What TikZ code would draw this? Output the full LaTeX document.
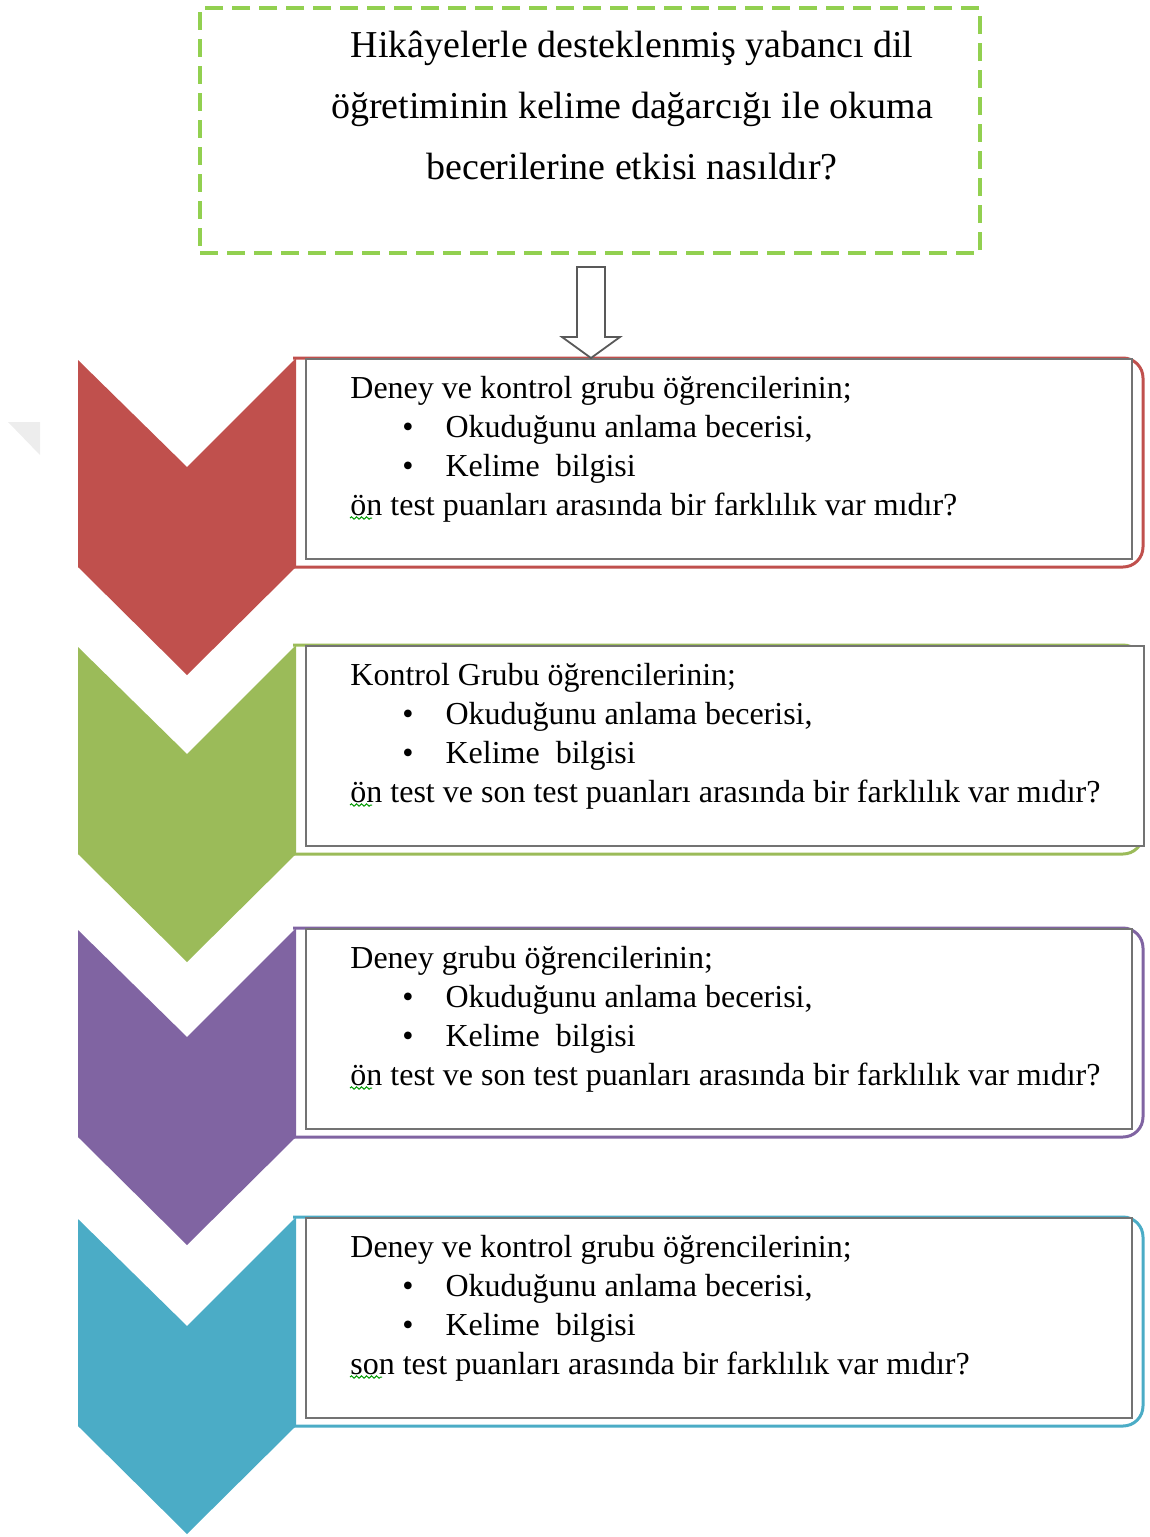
\documentclass[tikz,border=0pt]{standalone}
\usepackage{fontspec}
\setmainfont{Liberation Serif}
\usetikzlibrary{calc,positioning,decorations.pathmorphing}
\definecolor{chRed}{HTML}{C0504D}
\definecolor{chGreen}{HTML}{9BBB59}
\definecolor{chPurple}{HTML}{8064A2}
\definecolor{chBlue}{HTML}{4BACC6}
\definecolor{qGreen}{HTML}{92D050}
\newcommand{\itm}[1]{\hspace*{26pt}\textbullet\hspace*{16pt}#1}

\begin{document}
\begin{tikzpicture}[x=0.5pt,y=-0.5pt,
    qbox/.style={draw=qGreen, line width=2pt, dash pattern=on 9pt off 4.5pt, minimum width=390pt, minimum height=122.5pt},
    qtext/.style={align=center, font=\fontsize{19}{30.5}\selectfont, inner sep=0pt},
    stepbox/.style={draw=black!55, line width=0.9pt, fill=white, anchor=north west, minimum height=100pt, inner sep=0pt},
    steptext/.style={align=left, anchor=north west, font=\fontsize{16}{19.5}\selectfont, inner sep=0pt},
    spell/.style={draw=green!60!black, line width=0.5pt, decorate, decoration={snake, amplitude=0.6pt, segment length=2.5pt}},
    hollow/.style={draw=black!65, line width=0.9pt, fill=white, line join=miter}]
  \useasboundingbox (0,0) rectangle (1150,1537);
  \fill[black!7] (8,422) -- (40,422) -- (40,455) -- cycle;

  \node[qbox] (q) at (590,130.5) {};
  \node[qtext] (qt) at (632,106) {Hikâyelerle desteklenmiş yabancı dil\\ öğretiminin kelime dağarcığı ile okuma\\ becerilerine etkisi nasıldır?};

  \foreach \y/\c/\w/\n in {358/chRed/413/1, 645/chGreen/419/2, 928/chPurple/413/3, 1217/chBlue/413/4}{
    \draw[\c, line width=1.5pt, rounded corners=10pt] (293,\y) -- (1143,\y) -- (1143,\y+209) -- (293,\y+209);
    \fill[\c] (78,\y+2) -- (187,\y+109) -- (296,\y) -- (296,\y+209) -- (187,\y+317) -- (78,\y+209) -- cycle;
    \node[stepbox, minimum width=\w pt] (b\n) at (305,\y) {};
  }

  \node[steptext] (t1) at ([xshift=22.5pt,yshift=-9pt]b1.north west) {Deney ve kontrol grubu öğrencilerinin;\\ \itm{Okuduğunu anlama becerisi,}\\ \itm{Kelime\ \ bilgisi}\\ ön test puanları arasında bir farklılık var mıdır?};
  \node[steptext] (t2) at ([xshift=22.5pt,yshift=-9pt]b2.north west) {Kontrol Grubu öğrencilerinin;\\ \itm{Okuduğunu anlama becerisi,}\\ \itm{Kelime\ \ bilgisi}\\ ön test ve son test puanları arasında bir farklılık var mıdır?};
  \node[steptext] (t3) at ([xshift=22.5pt,yshift=-9pt]b3.north west) {Deney grubu öğrencilerinin;\\ \itm{Okuduğunu anlama becerisi,}\\ \itm{Kelime\ \ bilgisi}\\ ön test ve son test puanları arasında bir farklılık var mıdır?};
  \node[steptext] (t4) at ([xshift=22.5pt,yshift=-9pt]b4.north west) {Deney ve kontrol grubu öğrencilerinin;\\ \itm{Okuduğunu anlama becerisi,}\\ \itm{Kelime\ \ bilgisi}\\ son test puanları arasında bir farklılık var mıdır?};

  \draw[spell] ([xshift=22.5pt,yshift=-80pt]b1.north west) -- ++(22,0);
  \draw[spell] ([xshift=22.5pt,yshift=-80pt]b2.north west) -- ++(22,0);
  \draw[spell] ([xshift=22.5pt,yshift=-80pt]b3.north west) -- ++(22,0);
  \draw[spell] ([xshift=22.5pt,yshift=-80pt]b4.north west) -- ++(32,0);

  \draw[hollow] ($(q.south)+(-13,12)$) -- ++(28,0) -- ++(0,70) -- ++(15,0) -- ($(q.south |- b1.north)+(1,0)$) -- ($(q.south)+(-28,82)$) -- ++(15,0) -- cycle;
\end{tikzpicture}
\end{document}
